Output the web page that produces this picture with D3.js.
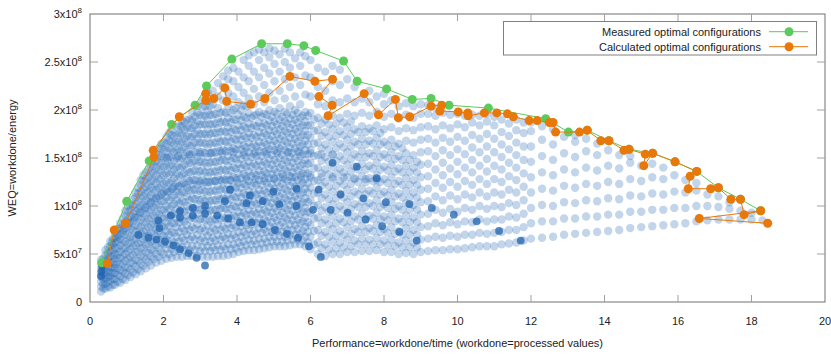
<!DOCTYPE html>
<html>
<head>
<meta charset="utf-8">
<script src="https://cdn.jsdelivr.net/npm/d3@7"></script>
<style>
  body { margin: 0; background: #fff; }
  text { font-family: "Liberation Sans", Arial, sans-serif; font-size: 11px; fill: #222; }
</style>
</head>
<body>
<svg id="chart" width="831" height="354"></svg>
<script>
// values on the y axis are given in units of 1e8
const yUnit = 1e8;
const xTicks = [0, 2, 4, 6, 8, 10, 12, 14, 16, 18, 20];
const yTicks = [0, 0.5, 1, 1.5, 2, 2.5, 3];
const yTickLabels = [["0", ""], ["5x10", "7"], ["1x10", "8"], ["1.5x10", "8"], ["2x10", "8"], ["2.5x10", "8"], ["3x10", "8"]];
const seriesNames = ["Measured optimal configurations", "Calculated optimal configurations"];

const measured = [[0.32,0.41],[1.0,1.05],[1.61,1.47],[2.22,1.85],[2.86,2.05],[3.17,2.25],[3.86,2.53],[4.67,2.69],
  [5.37,2.69],[5.82,2.67],[6.14,2.62],[6.9,2.51],[7.27,2.30],[8.07,2.22],[8.77,2.11],[9.28,2.12],[9.77,2.05],
  [10.84,2.02],[12.4,1.91],[13.02,1.77],[13.53,1.79],[14.12,1.68],[14.67,1.59],[15.31,1.55],[15.92,1.46],
  [16.51,1.36],[17.1,1.19],[17.7,1.07],[18.25,0.95]];

const calculated = [[0.47,0.40],[0.66,0.75],[0.97,0.82],[1.74,1.51],[1.72,1.58],[2.43,1.93],[3.15,2.10],[3.15,2.17],
  [3.37,2.12],[3.67,2.23],[3.72,2.09],[4.37,2.06],[4.76,2.12],[5.44,2.35],[6.12,2.30],[6.6,2.32],[6.23,2.14],
  [6.59,2.05],[6.48,1.94],[7.46,2.17],[7.85,1.95],[8.31,2.11],[8.39,1.92],[8.7,1.93],[9.28,2.04],[9.57,2.05],
  [9.52,1.99],[10.02,1.98],[10.28,1.97],[10.29,1.94],[10.73,1.97],[11.07,1.97],[11.36,1.96],[11.52,1.93],
  [11.95,1.89],[12.17,1.89],[12.5,1.87],[12.6,1.87],[12.67,1.77],[13.32,1.77],[13.53,1.79],[13.9,1.68],
  [14.12,1.68],[14.53,1.58],[14.67,1.59],[15.11,1.54],[15.07,1.42],[15.31,1.55],[15.92,1.46],[16.51,1.36],
  [16.33,1.31],[16.28,1.18],[16.89,1.18],[17.1,1.19],[17.44,1.07],[17.7,1.07],[17.8,0.91],[18.25,0.95],
  [16.58,0.87],[18.44,0.82]];

// all measured configurations, read column by column: [x, [y, y, ...]]
const cloudCols = [
  [0.30,[0.11,0.16,0.21,0.26,0.30,0.35,0.40,0.44]],
  [0.42,[0.14,0.19,0.24,0.28,0.33,0.38,0.43,0.49,0.54]],
  [0.55,[0.15,0.22,0.27,0.31,0.36,0.41,0.47,0.53,0.58,0.63]],
  [0.68,[0.18,0.24,0.30,0.35,0.39,0.45,0.50,0.56,0.62,0.67,0.72]],
  [0.82,[0.20,0.27,0.33,0.40,0.46,0.52,0.59,0.65,0.71,0.77,0.82]],
  [0.96,[0.23,0.30,0.36,0.43,0.50,0.56,0.63,0.70,0.77,0.83,0.90,0.95]],
  [1.10,[0.26,0.34,0.41,0.47,0.55,0.62,0.68,0.76,0.83,0.89,0.96,1.02]],
  [1.24,[0.29,0.37,0.44,0.52,0.59,0.66,0.73,0.80,0.88,0.95,1.02,1.09,1.14]],
  [1.38,[0.32,0.40,0.48,0.56,0.63,0.71,0.78,0.86,0.93,1.00,1.08,1.15,1.22,1.27]],
  [1.52,[0.35,0.44,0.52,0.60,0.68,0.75,0.83,0.91,0.98,1.06,1.13,1.20,1.28,1.35]],
  [1.66,[0.38,0.47,0.55,0.63,0.72,0.80,0.88,0.96,1.03,1.11,1.19,1.26,1.34,1.41,1.46]],
  [1.80,[0.41,0.50,0.59,0.68,0.76,0.84,0.93,1.01,1.09,1.17,1.24,1.32,1.40,1.47,1.54]],
  [1.94,[0.43,0.52,0.61,0.70,0.79,0.88,0.96,1.05,1.13,1.21,1.29,1.37,1.45,1.52,1.60,1.65]],
  [2.08,[0.45,0.56,0.65,0.74,0.83,0.92,1.00,1.09,1.17,1.25,1.34,1.42,1.50,1.57,1.65,1.72]],
  [2.22,[0.46,0.55,0.64,0.73,0.82,0.91,1.00,1.09,1.18,1.26,1.35,1.43,1.51,1.59,1.67,1.74,1.80]],
  [2.36,[0.47,0.58,0.68,0.78,0.87,0.97,1.06,1.15,1.24,1.33,1.41,1.50,1.58,1.66,1.74,1.82]],
  [2.50,[0.47,0.57,0.67,0.77,0.86,0.96,1.05,1.14,1.23,1.32,1.41,1.50,1.59,1.67,1.75,1.83,1.89]],
  [2.64,[0.48,0.59,0.70,0.80,0.90,1.00,1.10,1.19,1.29,1.38,1.47,1.56,1.65,1.73,1.82,1.90]],
  [2.78,[0.48,0.58,0.68,0.78,0.88,0.98,1.08,1.17,1.27,1.36,1.45,1.54,1.63,1.72,1.81,1.89,1.97]],
  [2.92,[0.48,0.59,0.70,0.81,0.92,1.02,1.12,1.22,1.32,1.42,1.51,1.61,1.70,1.79,1.88,1.97,2.04]],
  [3.06,[0.47,0.57,0.67,0.77,0.87,0.97,1.07,1.17,1.27,1.37,1.46,1.56,1.66,1.75,1.85,1.94,2.03,2.10]],
  [3.20,[0.47,0.58,0.69,0.80,0.91,1.01,1.11,1.21,1.31,1.41,1.51,1.61,1.71,1.80,1.90,1.99,2.09,2.18]],
  [3.34,[0.47,0.57,0.67,0.77,0.86,0.96,1.06,1.16,1.26,1.36,1.46,1.56,1.66,1.76,1.85,1.95,2.06,2.20]],
  [3.48,[0.48,0.59,0.70,0.81,0.91,1.01,1.11,1.21,1.31,1.41,1.51,1.61,1.71,1.81,1.91,2.02,2.14,2.28]],
  [3.62,[0.48,0.58,0.68,0.78,0.88,0.98,1.08,1.18,1.28,1.38,1.48,1.58,1.68,1.78,1.88,1.98,2.10,2.24,2.35]],
  [3.76,[0.49,0.60,0.71,0.82,0.92,1.02,1.12,1.22,1.32,1.42,1.52,1.62,1.72,1.82,1.92,2.04,2.18,2.32,2.41]],
  [3.90,[0.50,0.60,0.70,0.80,0.90,1.00,1.10,1.20,1.30,1.40,1.50,1.60,1.70,1.80,1.90,2.00,2.14,2.30,2.44]],
  [4.04,[0.52,0.62,0.73,0.84,0.94,1.04,1.14,1.24,1.34,1.44,1.54,1.64,1.74,1.84,1.95,2.08,2.24,2.40]],
  [4.18,[0.53,0.63,0.73,0.83,0.93,1.03,1.13,1.23,1.33,1.43,1.53,1.63,1.73,1.83,1.93,2.05,2.18,2.34,2.52]],
  [4.32,[0.54,0.65,0.76,0.86,0.96,1.06,1.16,1.26,1.36,1.46,1.56,1.66,1.76,1.86,1.97,2.12,2.30,2.46,2.57]],
  [4.46,[0.54,0.64,0.74,0.84,0.94,1.04,1.14,1.24,1.34,1.44,1.54,1.64,1.74,1.84,1.94,2.06,2.22,2.40,2.60]],
  [4.60,[0.55,0.66,0.77,0.87,0.97,1.07,1.17,1.27,1.37,1.47,1.57,1.67,1.77,1.87,1.98,2.14,2.34,2.52,2.63]],
  [4.74,[0.56,0.66,0.76,0.86,0.96,1.06,1.16,1.26,1.36,1.46,1.56,1.66,1.76,1.86,1.96,2.08,2.26,2.44,2.60]],
  [4.88,[0.57,0.68,0.79,0.89,0.99,1.09,1.19,1.29,1.39,1.49,1.59,1.69,1.79,1.89,2.00,2.18,2.38,2.55,2.64]],
  [5.02,[0.58,0.68,0.78,0.88,0.98,1.08,1.18,1.28,1.38,1.48,1.58,1.68,1.78,1.88,1.98,2.10,2.30,2.48,2.62]],
  [5.16,[0.58,0.69,0.80,0.90,1.00,1.10,1.20,1.30,1.40,1.50,1.60,1.70,1.80,1.90,2.02,2.20,2.40,2.58]],
  [5.30,[0.58,0.68,0.78,0.88,0.98,1.08,1.18,1.28,1.38,1.48,1.58,1.68,1.78,1.88,1.98,2.12,2.32,2.50,2.64]],
  [5.44,[0.59,0.70,0.81,0.91,1.01,1.11,1.21,1.31,1.41,1.51,1.61,1.71,1.81,1.91,2.04,2.24,2.44,2.60]],
  [5.58,[0.60,0.70,0.80,0.90,1.00,1.10,1.20,1.30,1.40,1.50,1.60,1.70,1.80,1.90,2.00,2.14,2.34,2.54]],
  [5.72,[0.60,0.71,0.82,0.92,1.02,1.12,1.22,1.32,1.42,1.52,1.62,1.72,1.82,1.92,2.06,2.26,2.46,2.60]],
  [5.86,[0.58,0.68,0.78,0.88,0.98,1.08,1.18,1.28,1.38,1.48,1.58,1.68,1.78,1.88,1.98,2.16,2.36,2.56]],
  [6.00,[0.55,0.68,0.80,0.93,1.06,1.19,1.32,1.45,1.58,1.71,1.84,1.97,2.14,2.34,2.52]],
  [6.20,[0.50,0.62,0.75,0.88,1.01,1.14,1.27,1.40,1.53,1.66,1.79,1.92,2.06,2.24,2.44]],
  [6.40,[0.48,0.60,0.73,0.86,0.99,1.12,1.25,1.38,1.51,1.64,1.77,1.90,2.04,2.20,2.40]],
  [6.60,[0.50,0.63,0.76,0.89,1.02,1.15,1.28,1.41,1.54,1.67,1.80,1.94,2.10,2.30,2.46]],
  [6.80,[0.50,0.62,0.74,0.87,1.00,1.13,1.26,1.39,1.52,1.65,1.78,1.92,2.08,2.26,2.42]],
  [7.00,[0.52,0.65,0.78,0.91,1.04,1.17,1.30,1.43,1.56,1.69,1.82,1.96,2.12,2.32]],
  [7.20,[0.52,0.64,0.76,0.89,1.02,1.15,1.28,1.41,1.54,1.67,1.80,1.94,2.08,2.24]],
  [7.40,[0.53,0.66,0.79,0.92,1.05,1.18,1.31,1.44,1.57,1.70,1.83,1.97,2.12]],
  [7.60,[0.53,0.65,0.77,0.90,1.03,1.16,1.29,1.42,1.55,1.68,1.81,1.94,2.08,2.20]],
  [7.80,[0.54,0.67,0.80,0.93,1.06,1.19,1.32,1.45,1.58,1.71,1.84,1.98,2.14]],
  [8.00,[0.52,0.64,0.76,0.89,1.02,1.15,1.28,1.41,1.54,1.67,1.80,1.93,2.06,2.17]],
  [8.20,[0.52,0.65,0.78,0.91,1.04,1.17,1.30,1.43,1.56,1.69,1.82,1.96,2.10]],
  [8.40,[0.50,0.62,0.74,0.87,1.00,1.13,1.26,1.39,1.52,1.65,1.78,1.91,2.04]],
  [8.60,[0.51,0.64,0.77,0.90,1.03,1.16,1.29,1.42,1.55,1.68,1.81,1.95,2.07]],
  [8.80,[0.50,0.62,0.75,0.88,1.01,1.14,1.27,1.40,1.53,1.66,1.79,1.92,2.04]],
  [9.00,[0.52,0.65,0.78,0.91,1.04,1.17,1.30,1.43,1.56,1.69,1.82,1.96,2.06]],
  [9.20,[0.53,0.66,0.79,0.92,1.05,1.18,1.31,1.44,1.57,1.70,1.83,1.96,2.05]],
  [9.40,[0.54,0.68,0.82,0.96,1.10,1.24,1.38,1.52,1.66,1.80,1.94,2.02]],
  [9.60,[0.54,0.67,0.80,0.93,1.06,1.19,1.32,1.45,1.58,1.71,1.84,1.97]],
  [9.80,[0.55,0.69,0.83,0.97,1.11,1.25,1.39,1.53,1.67,1.81,1.95]],
  [10.0,[0.55,0.68,0.81,0.94,1.07,1.20,1.33,1.46,1.59,1.72,1.85,1.96]],
  [10.2,[0.56,0.70,0.84,0.98,1.12,1.26,1.40,1.54,1.68,1.82,1.94]],
  [10.4,[0.57,0.70,0.83,0.96,1.09,1.22,1.35,1.48,1.61,1.74,1.87,1.95]],
  [10.6,[0.58,0.72,0.86,1.00,1.14,1.28,1.42,1.56,1.70,1.84,1.94]],
  [10.8,[0.58,0.71,0.84,0.97,1.10,1.23,1.36,1.49,1.62,1.75,1.88,1.96]],
  [11.0,[0.58,0.72,0.86,1.00,1.14,1.28,1.42,1.56,1.70,1.84,1.93]],
  [11.2,[0.60,0.73,0.86,0.99,1.12,1.25,1.38,1.51,1.64,1.77,1.90]],
  [11.4,[0.61,0.75,0.89,1.03,1.17,1.31,1.45,1.59,1.73,1.86]],
  [11.6,[0.62,0.75,0.88,1.01,1.14,1.27,1.40,1.53,1.66,1.79,1.90]],
  [11.8,[0.64,0.78,0.92,1.06,1.20,1.34,1.48,1.62,1.76,1.87]],
  [12.0,[0.66,0.82,0.98,1.14,1.30,1.46,1.62,1.78,1.87]],
  [12.3,[0.67,0.84,1.01,1.18,1.35,1.52,1.69,1.83]],
  [12.6,[0.68,0.84,1.00,1.16,1.32,1.48,1.64,1.80]],
  [12.9,[0.70,0.87,1.04,1.21,1.38,1.55,1.72]],
  [13.2,[0.71,0.87,1.03,1.19,1.35,1.51,1.67,1.74]],
  [13.5,[0.72,0.89,1.06,1.23,1.40,1.57,1.70]],
  [13.8,[0.73,0.89,1.05,1.21,1.37,1.53,1.65]],
  [14.1,[0.74,0.91,1.08,1.25,1.42,1.58]],
  [14.4,[0.75,0.91,1.07,1.23,1.39,1.53]],
  [14.7,[0.77,0.94,1.11,1.28,1.45,1.52]],
  [15.0,[0.78,0.94,1.10,1.26,1.42]],
  [15.3,[0.79,0.96,1.13,1.30,1.44]],
  [15.6,[0.80,0.96,1.12,1.28,1.40]],
  [15.9,[0.81,0.98,1.15,1.32]],
  [16.2,[0.82,0.98,1.14,1.27]],
  [16.5,[0.84,1.00,1.16,1.24]],
  [16.8,[0.85,1.00,1.12]],
  [17.1,[0.86,0.99,1.10]],
  [17.4,[0.86,0.97,1.04]],
  [17.7,[0.86,0.95]],
  [18.0,[0.86,0.93]],
  [18.3,[0.85]]
];

// extra configurations in the dense core, between the columns above
const coreCols = [
  [0.36,[0.14,0.19,0.24,0.29,0.34,0.39,0.45]],
  [0.49,[0.16,0.21,0.26,0.31,0.36,0.41,0.46,0.51,0.57]],
  [0.62,[0.18,0.24,0.30,0.36,0.42,0.48,0.54,0.60,0.66]],
  [0.75,[0.21,0.28,0.35,0.42,0.49,0.56,0.63,0.70,0.76]],
  [0.89,[0.24,0.32,0.40,0.48,0.56,0.64,0.72,0.80,0.87]],
  [1.03,[0.28,0.36,0.45,0.53,0.61,0.70,0.78,0.86,0.94,1.00]],
  [1.17,[0.31,0.40,0.49,0.58,0.66,0.75,0.84,0.92,1.00,1.07]],
  [1.31,[0.34,0.43,0.52,0.61,0.70,0.79,0.88,0.97,1.05,1.13,1.19]],
  [1.45,[0.38,0.47,0.56,0.65,0.74,0.83,0.92,1.01,1.10,1.18,1.26,1.32]],
  [1.59,[0.42,0.51,0.60,0.69,0.78,0.87,0.96,1.05,1.14,1.22,1.30,1.38]],
  [1.73,[0.45,0.54,0.63,0.72,0.81,0.90,0.99,1.08,1.17,1.26,1.34,1.42,1.50]],
  [1.87,[0.47,0.56,0.65,0.74,0.83,0.92,1.01,1.10,1.19,1.28,1.37,1.45,1.53,1.60]],
  [2.01,[0.50,0.60,0.69,0.78,0.87,0.96,1.05,1.14,1.23,1.32,1.41,1.50,1.58,1.66]],
  [2.15,[0.50,0.60,0.70,0.79,0.88,0.97,1.06,1.15,1.24,1.33,1.42,1.51,1.60,1.68,1.76]],
  [2.29,[0.52,0.62,0.72,0.82,0.92,1.02,1.11,1.20,1.29,1.38,1.47,1.56,1.65,1.73]],
  [2.43,[0.53,0.63,0.73,0.83,0.93,1.03,1.12,1.21,1.31,1.40,1.49,1.58,1.67,1.76,1.84]],
  [2.57,[0.54,0.64,0.74,0.84,0.94,1.04,1.14,1.24,1.34,1.43,1.52,1.61,1.70,1.79,1.87]],
  [2.71,[0.54,0.65,0.75,0.86,0.96,1.06,1.16,1.26,1.35,1.45,1.54,1.63,1.72,1.81,1.90]],
  [2.85,[0.54,0.65,0.76,0.87,0.97,1.07,1.17,1.27,1.37,1.47,1.56,1.66,1.75,1.84,1.93]],
  [2.99,[0.53,0.64,0.75,0.86,0.96,1.06,1.16,1.26,1.36,1.46,1.56,1.66,1.75,1.85,1.95]],
  [3.13,[0.53,0.63,0.74,0.85,0.95,1.05,1.15,1.25,1.35,1.45,1.55,1.65,1.75,1.85,1.94,2.04]],
  [3.27,[0.53,0.63,0.73,0.84,0.95,1.05,1.15,1.25,1.35,1.45,1.55,1.65,1.75,1.85,1.95,2.04]],
  [3.41,[0.54,0.64,0.75,0.86,0.96,1.06,1.16,1.26,1.36,1.46,1.56,1.66,1.76,1.86,1.96]],
  [3.55,[0.54,0.65,0.75,0.86,0.97,1.07,1.17,1.27,1.37,1.47,1.57,1.67,1.77,1.87,1.97]],
  [3.69,[0.55,0.66,0.76,0.87,0.97,1.07,1.17,1.27,1.37,1.47,1.57,1.67,1.77,1.87,1.97]],
  [3.83,[0.55,0.66,0.77,0.87,0.97,1.07,1.17,1.27,1.37,1.47,1.57,1.67,1.77,1.87,1.97]],
  [3.97,[0.56,0.67,0.78,0.89,0.99,1.09,1.19,1.29,1.39,1.49,1.59,1.69,1.79,1.90,2.02]],
  [4.11,[0.58,0.68,0.79,0.89,0.99,1.09,1.19,1.29,1.39,1.49,1.59,1.69,1.79,1.89,2.00]],
  [4.25,[0.59,0.70,0.80,0.91,1.01,1.11,1.21,1.31,1.41,1.51,1.61,1.71,1.81,1.92,2.04]],
  [4.39,[0.60,0.70,0.81,0.91,1.01,1.11,1.21,1.31,1.41,1.51,1.61,1.71,1.81,1.92]],
  [4.53,[0.60,0.71,0.82,0.92,1.02,1.12,1.22,1.32,1.42,1.52,1.62,1.72,1.83,1.95]],
  [4.67,[0.61,0.72,0.82,0.92,1.02,1.12,1.22,1.32,1.42,1.52,1.62,1.72,1.82,1.93]],
  [4.81,[0.62,0.73,0.84,0.94,1.04,1.14,1.24,1.34,1.44,1.54,1.64,1.74,1.84,1.95]],
  [4.95,[0.63,0.73,0.83,0.93,1.03,1.13,1.23,1.33,1.43,1.53,1.63,1.73,1.83,1.93]],
  [5.09,[0.63,0.74,0.85,0.95,1.05,1.15,1.25,1.35,1.45,1.55,1.65,1.75,1.85,1.96]],
  [5.23,[0.63,0.73,0.83,0.93,1.03,1.13,1.23,1.33,1.43,1.53,1.63,1.73,1.83,1.93]],
  [5.37,[0.64,0.75,0.86,0.96,1.06,1.16,1.26,1.36,1.46,1.56,1.66,1.76,1.86,1.96]],
  [5.51,[0.65,0.75,0.85,0.95,1.05,1.15,1.25,1.35,1.45,1.55,1.65,1.75,1.85,1.95]],
  [5.65,[0.65,0.76,0.86,0.97,1.07,1.17,1.27,1.37,1.47,1.57,1.67,1.77,1.87,1.97]],
  [5.79,[0.64,0.74,0.84,0.94,1.04,1.14,1.24,1.34,1.44,1.54,1.64,1.74,1.84,1.94]],
  [5.93,[0.62,0.73,0.83,0.94,1.04,1.14,1.24,1.34,1.44,1.54,1.64,1.74,1.84,1.94]],
  [6.10,[0.60,0.74,0.87,1.00,1.13,1.26,1.39,1.52,1.65,1.78,1.90]],
  [6.30,[0.56,0.69,0.82,0.95,1.08,1.21,1.34,1.47,1.60,1.73,1.86]],
  [6.50,[0.55,0.68,0.81,0.94,1.07,1.20,1.33,1.46,1.59,1.72,1.85]],
  [6.70,[0.56,0.69,0.82,0.95,1.08,1.21,1.34,1.47,1.60,1.73,1.86]],
  [6.90,[0.57,0.70,0.83,0.96,1.09,1.22,1.35,1.48,1.61,1.74,1.87]],
  [7.10,[0.58,0.71,0.84,0.97,1.10,1.23,1.36,1.49,1.62,1.75,1.88]],
  [7.30,[0.60,0.73,0.86,0.99,1.12,1.25,1.38,1.51,1.64,1.77]],
  [7.50,[0.60,0.73,0.86,0.99,1.12,1.25,1.38,1.51,1.64,1.77]],
  [7.70,[0.60,0.74,0.87,1.00,1.13,1.26,1.39,1.52,1.65,1.78]],
  [7.90,[0.60,0.73,0.86,0.99,1.12,1.25,1.38,1.51,1.64,1.76]],
  [8.10,[0.59,0.72,0.85,0.98,1.11,1.24,1.37,1.50,1.63]],
  [8.30,[0.58,0.71,0.84,0.97,1.10,1.23,1.36,1.49,1.62]],
  [8.50,[0.57,0.70,0.83,0.96,1.09,1.22,1.35,1.48,1.60]],
  [8.70,[0.57,0.70,0.83,0.96,1.09,1.22,1.35,1.48]],
  [8.90,[0.57,0.70,0.83,0.96,1.09,1.22,1.35,1.46]]
];

// denser bands inside the cloud
const denseBand = [[0.6,0.62],[0.75,0.68],[0.9,0.75],[1.05,0.82],[1.2,0.88],[1.35,0.94],[1.5,0.99],[1.65,1.04],
  [1.8,1.08],[1.95,1.12],[2.1,1.15],[2.25,1.18],[2.4,1.2],[2.6,1.22],[2.8,1.23],[3.0,1.24],[3.2,1.25],[3.4,1.26],
  [3.6,1.26],[3.8,1.27],[4.0,1.27],[4.25,1.28],[4.5,1.28],[4.75,1.29],[5.0,1.29],[5.25,1.3],[5.5,1.3],[5.75,1.3],
  [6.0,1.3],[6.3,1.3],[6.6,1.3],[6.9,1.3],[7.2,1.29],[7.5,1.28],[7.8,1.27],
  [2.1,1.5],[2.4,1.52],[2.7,1.53],[3.0,1.54],[3.3,1.55],[3.6,1.55],[3.9,1.56],[4.2,1.56],[4.5,1.56],[4.8,1.57],
  [5.1,1.57],[5.4,1.56],[5.7,1.56],[6.0,1.55],[6.3,1.54],[6.6,1.53]];

// points hit several times (drawn darker)
const darkDots = [[0.3,0.27],[0.31,0.32],[0.33,0.37],
  [1.32,0.7],[1.59,0.67],[1.81,0.65],[2.04,0.63],[2.27,0.59],[2.45,0.55],[2.68,0.51],[2.9,0.46],[3.13,0.38],
  [1.86,0.85],[1.89,0.77],[2.2,0.9],[2.45,0.95],[2.45,0.88],[2.8,0.98],[2.8,0.9],[3.13,1.0],[3.13,0.92],
  [3.46,0.9],[3.76,0.87],[4.08,0.83],[4.4,0.83],[4.7,0.81],[5.03,0.75],[5.36,0.71],[5.66,0.67],[5.96,0.58],[6.28,0.47],
  [3.67,1.05],[4.26,1.03],[4.7,1.05],[5.15,1.02],[5.62,1.0],[6.07,0.96],[6.55,0.96],[7.01,0.93],[7.5,0.86],
  [7.95,0.79],[8.42,0.73],[8.89,0.64],
  [3.81,1.17],[4.35,1.11],[4.99,1.15],[5.62,1.18],[6.22,1.17],[6.82,1.12],[7.44,1.08],[8.05,1.04],[8.69,1.02],
  [9.3,0.98],[9.9,0.91],[10.52,0.84],[11.13,0.74],[11.72,0.64],
  [6.6,1.45],[7.26,1.41],[7.8,1.29]];

const svg = d3.select('#chart');
const mLeft = 90, mRight = 825, mTop = 14, mBottom = 302;

const x = d3.scaleLinear().domain([0, 20]).range([mLeft, mRight]);
const y = d3.scaleLinear().domain([0, 3 * yUnit]).range([mBottom, mTop]);

const blue = '#2468b2';
const green = '#5ccb5c';
const orange = '#e8780a';

const toPoints = cols => cols.flatMap(([cx, ys]) => ys.map(v => [cx, v]));
const cloud = toPoints(cloudCols).concat(toPoints(coreCols), denseBand);

const plot = svg.append('g');

plot.append('g').selectAll('circle')
  .data(cloud)
  .enter().append('circle')
  .attr('cx', d => x(d[0]))
  .attr('cy', d => y(d[1] * yUnit))
  .attr('r', 4.2)
  .attr('fill', blue)
  .attr('fill-opacity', 0.28);

plot.append('g').selectAll('circle')
  .data(darkDots)
  .enter().append('circle')
  .attr('cx', d => x(d[0]))
  .attr('cy', d => y(d[1] * yUnit))
  .attr('r', 3.9)
  .attr('fill', '#1f62ae')
  .attr('fill-opacity', 0.75);

// frame and ticks
svg.append('rect')
  .attr('x', mLeft).attr('y', mTop)
  .attr('width', mRight - mLeft).attr('height', mBottom - mTop)
  .attr('fill', 'none').attr('stroke', '#707070');

const ticks = svg.append('g').attr('stroke', '#a0a0a0');
xTicks.slice(1, -1).forEach(t => {
  ticks.append('line').attr('x1', x(t)).attr('x2', x(t)).attr('y1', mBottom).attr('y2', mBottom - 7);
  ticks.append('line').attr('x1', x(t)).attr('x2', x(t)).attr('y1', mTop).attr('y2', mTop + 7);
});
yTicks.slice(1, -1).forEach(t => {
  ticks.append('line').attr('x1', mLeft).attr('x2', mLeft + 8).attr('y1', y(t * yUnit)).attr('y2', y(t * yUnit));
  ticks.append('line').attr('x1', mRight).attr('x2', mRight - 8).attr('y1', y(t * yUnit)).attr('y2', y(t * yUnit));
});

svg.append('g').selectAll('text')
  .data(xTicks)
  .enter().append('text')
  .attr('x', d => x(d))
  .attr('y', 325)
  .attr('text-anchor', 'middle')
  .text(d => d);

const yl = svg.append('g').selectAll('text')
  .data(yTicks)
  .enter().append('text')
  .attr('x', 82)
  .attr('y', d => y(d * yUnit) + 4)
  .attr('text-anchor', 'end');
yl.append('tspan').text((d, i) => yTickLabels[i][0]);
yl.append('tspan').attr('dy', -5).attr('font-size', '8px').text((d, i) => yTickLabels[i][1]);

svg.append('text')
  .attr('x', (mLeft + mRight) / 2)
  .attr('y', 347)
  .attr('text-anchor', 'middle')
  .text('Performance=workdone/time (workdone=processed values)');

svg.append('text')
  .attr('transform', 'translate(16,158) rotate(-90)')
  .attr('text-anchor', 'middle')
  .text('WEQ=workdone/energy');

// optimal configuration lines
const line = d3.line().x(d => x(d[0])).y(d => y(d[1] * yUnit));

function drawSeries(data, color) {
  const g = svg.append('g');
  g.append('path').attr('d', line(data)).attr('fill', 'none').attr('stroke', color).attr('stroke-width', 1);
  g.selectAll('circle').data(data).enter().append('circle')
    .attr('cx', d => x(d[0]))
    .attr('cy', d => y(d[1] * yUnit))
    .attr('r', 4.5)
    .attr('fill', color);
}
drawSeries(measured, green);
drawSeries(calculated, orange);

// legend
const legend = svg.append('g');
legend.append('rect')
  .attr('x', 503.5).attr('y', 21.5).attr('width', 313).attr('height', 33.5)
  .attr('fill', '#fff').attr('stroke', '#808080');
[green, orange].forEach((c, i) => {
  const ly = 31.7 + i * 15;
  legend.append('text').attr('x', 761).attr('y', ly + 4).attr('text-anchor', 'end').text(seriesNames[i]);
  legend.append('line').attr('x1', 769).attr('x2', 808).attr('y1', ly).attr('y2', ly).attr('stroke', c);
  legend.append('circle').attr('cx', 789).attr('cy', ly).attr('r', 4.5).attr('fill', c);
});
</script>
</body>
</html>
